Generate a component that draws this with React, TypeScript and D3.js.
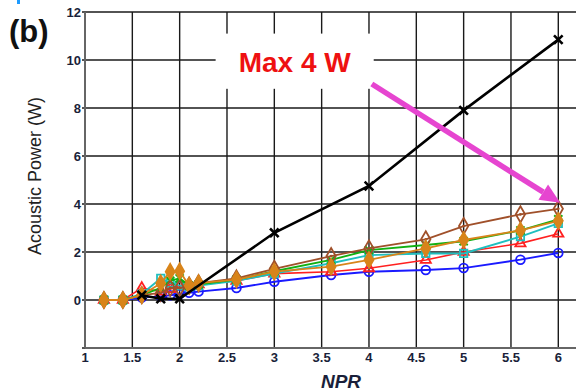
import React from "react";
import * as d3 from "d3";

const W = 576;
const H = 391;

const xTicks = [1, 1.5, 2, 2.5, 3, 3.5, 4, 4.5, 5, 5.5, 6];
const xTickLabels = ["1", "1.5", "2", "2.5", "3", "3.5", "4", "4.5", "5", "5.5", "6"];
const yTicks = [0, 2, 4, 6, 8, 10, 12];
const yTickLabels = ["0", "2", "4", "6", "8", "10", "12"];

const nprAll = [1.2, 1.4, 1.6, 1.8, 1.9, 2.0, 2.1, 2.2, 2.6, 3.0, 3.6, 4.0, 4.6, 5.0, 5.6, 6.0];
const blueVals = [0, 0, 0.1, 0.15, 0.2, 0.25, 0.3, 0.35, 0.5, 0.76, 1.04, 1.18, 1.25, 1.33, 1.68, 1.96];
const redVals = [0, 0, 0.5, 0.35, 0.45, 0.6, 0.6, 0.65, 0.8, 1.1, 1.18, 1.32, 1.67, 2.0, 2.36, 2.76];
const cyanVals = [0, 0, 0.25, 0.9, 0.7, 0.6, 0.55, 0.6, 0.8, 1.1, 1.53, 1.87, 1.94, 1.94, 2.64, 3.19];
const greenVals = [0, 0, 0.2, 0.5, 0.8, 0.9, 0.6, 0.65, 0.85, 1.2, 1.67, 2.08, 2.29, 2.45, 2.9, 3.36];
const brownVals = [0, 0, 0.2, 0.3, 0.5, 0.5, 0.6, 0.7, 0.9, 1.3, 1.83, 2.15, 2.53, 3.08, 3.57, 3.8];
const orangeVals = [0, 0, 0.2, 0.7, 1.18, 1.2, 0.6, 0.7, 0.85, 1.18, 1.39, 1.67, 2.15, 2.5, 2.9, 3.3];
const nprBlack = [1.6, 1.8, 2.0, 3, 4, 5, 6];
const blackVals = [0.2, 0.05, 0.05, 2.8, 4.75, 7.9, 10.85];

const annotationText = "Max 4 W";
const arrowFrom = [4.03, 9.0];
const arrowTo = [6.02, 4.05];
const boxX = [2.38, 4.05];
const boxY = [8.8, 11.1];

type Series = {
  xs: number[];
  ys: number[];
  color: string;
  symbol: d3.SymbolType;
  size: number;
  filled: boolean;
  lw: number;
  dot?: boolean;
};

const seriesList: Series[] = [
  { xs: nprAll, ys: blueVals, color: "#1a1aff", symbol: d3.symbolCircle, size: 60, filled: false, lw: 1.9 },
  { xs: nprAll, ys: redVals, color: "#ff2020", symbol: d3.symbolTriangle, size: 45, filled: false, lw: 1.6 },
  { xs: nprAll, ys: cyanVals, color: "#1fbfbf", symbol: d3.symbolSquare, size: 55, filled: false, lw: 1.9 },
  { xs: nprAll, ys: greenVals, color: "#12b012", symbol: d3.symbolTimes, size: 45, filled: false, lw: 1.9 },
  { xs: nprAll, ys: brownVals, color: "#a0502a", symbol: d3.symbolDiamond, size: 75, filled: false, lw: 1.8, dot: true },
  { xs: nprAll, ys: orangeVals, color: "#d8841a", symbol: d3.symbolDiamond, size: 70, filled: true, lw: 1.8 },
  { xs: nprBlack, ys: blackVals, color: "#000000", symbol: d3.symbolTimes, size: 50, filled: false, lw: 2.6 },
];

export default function App() {
  const x = d3.scaleLinear().domain([1, 6.2]).range([85, 85 + 5.2 * 94.66]);
  const y = d3.scaleLinear().domain([-2, 12]).range([348, 12]);
  const gridX = xTicks.slice(1);
  const gridY = [-2, ...yTicks];
  const line = d3.line<[number, number]>().x((d) => x(d[0])).y((d) => y(d[1]));

  const ax1 = x(arrowFrom[0]);
  const ay1 = y(arrowFrom[1]);
  const ax2 = x(arrowTo[0]);
  const ay2 = y(arrowTo[1]);
  const ang = Math.atan2(ay2 - ay1, ax2 - ax1);
  const headLen = 20;
  const headW = 9;
  const bx = ax2 - headLen * Math.cos(ang);
  const by = ay2 - headLen * Math.sin(ang);
  const px = -Math.sin(ang);
  const py = Math.cos(ang);
  const head = `M${ax2},${ay2} L${bx + px * headW},${by + py * headW} L${bx - px * headW},${by - py * headW} Z`;

  return (
    <svg width={W} height={H} style={{ display: "block", position: "absolute", left: 0, top: 0, background: "#fff" }}>
      <rect x={17} y={0} width={3} height={4} fill="#1e9bff" />
      <text x={9} y={42} fontFamily="Liberation Sans, Arial, sans-serif" fontWeight="bold" fontSize={31} fill="#111">
        (b)
      </text>

      {/* grid */}
      {gridX.map((v) => (
        <line key={"gx" + v} x1={x(v)} x2={x(v)} y1={y(12)} y2={y(-2)} stroke="#1a1a1a" strokeWidth={1.4} />
      ))}
      {gridY.map((v) => (
        <line key={"gy" + v} x1={x(1) - 3} x2={W} y1={y(v)} y2={y(v)} stroke="#1a1a1a" strokeWidth={1.4} />
      ))}
      <line x1={x(1)} x2={x(1)} y1={y(12)} y2={y(-2)} stroke="#666" strokeWidth={2} />
      <line x1={x(1)} x2={W} y1={y(-2)} y2={y(-2)} stroke="#666" strokeWidth={2} />

      {/* white box for annotation */}
      <rect x={x(boxX[0])} y={y(boxY[1])} width={x(boxX[1]) - x(boxX[0])} height={y(boxY[0]) - y(boxY[1])} fill="#fff" />

      {/* tick labels */}
      {yTicks.map((v, i) => (
        <text key={"yt" + v} x={81} y={y(v) + 4.5} textAnchor="end" fontFamily="Liberation Sans, Arial, sans-serif" fontWeight="bold" fontSize={13} fill="#1a1f3a">
          {yTickLabels[i]}
        </text>
      ))}
      {xTicks.map((v, i) => (
        <text key={"xt" + v} x={x(v)} y={362} textAnchor="middle" fontFamily="Liberation Sans, Arial, sans-serif" fontWeight="bold" fontSize={13} fill="#1a1f3a">
          {xTickLabels[i]}
        </text>
      ))}

      <text transform={`translate(41,176) rotate(-90)`} textAnchor="middle" fontFamily="Liberation Sans, Arial, sans-serif" fontSize={18} fill="#222">
        Acoustic Power (W)
      </text>
      <text x={341} y={388} textAnchor="middle" fontFamily="Liberation Sans, Arial, sans-serif" fontWeight="bold" fontStyle="italic" fontSize={19} fill="#1a1f3a">
        NPR
      </text>

      {/* series */}
      {seriesList.map((s, si) => {
        const pts = s.xs.map((v, i) => [v, s.ys[i]] as [number, number]);
        const sym = d3.symbol().type(s.symbol).size(s.size)();
        return (
          <g key={"s" + si}>
            <path d={line(pts) || ""} fill="none" stroke={s.color} strokeWidth={s.lw} />
            {pts.map((p, i) => (
              <g key={i} transform={`translate(${x(p[0])},${y(p[1])})`}>
                <path
                  d={sym || ""}
                  fill={s.filled ? s.color : "none"}
                  stroke={s.color}
                  strokeWidth={s.symbol === d3.symbolTimes ? s.lw : 1.8}
                />
                {s.dot ? <circle r={1.4} fill={s.color} /> : null}
              </g>
            ))}
          </g>
        );
      })}

      {/* annotation */}
      <text x={x((boxX[0] + boxX[1]) / 2)} y={72} textAnchor="middle" fontFamily="Liberation Sans, Arial, sans-serif" fontWeight="bold" fontSize={28} fill="#ee1111">
        {annotationText}
      </text>
      <line x1={ax1} y1={ay1} x2={bx} y2={by} stroke="#e645d0" strokeWidth={5.5} />
      <path d={head} fill="#e645d0" />
    </svg>
  );
}
